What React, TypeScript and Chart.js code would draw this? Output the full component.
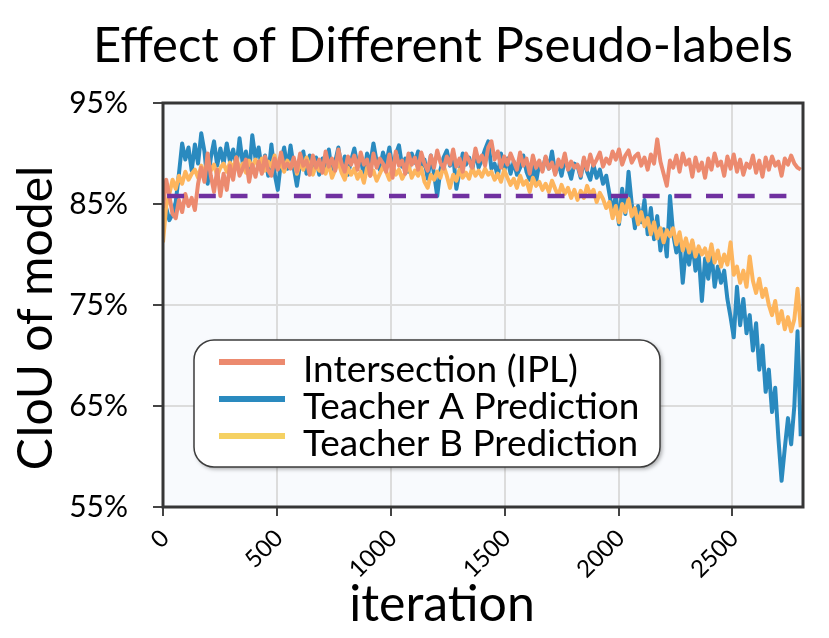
import React, { useEffect, useRef } from 'react';
import { Chart, registerables } from 'chart.js';

Chart.register(...registerables);

// sampled every 14 iterations, 0 .. 2800
const STEP = 14;
const iterations = Array.from({ length: 201 }, (_, i) => i * STEP);

const intersection = [
  84.6, 87.4, 85.8, 84.0, 83.6, 85.4, 84.2, 86.0, 84.8, 85.6,
  84.4, 87.0, 88.6, 87.2, 90.0, 87.8, 86.2, 88.4, 85.8, 88.0,
  86.4, 88.8, 87.4, 89.6, 87.8, 88.5, 89.4, 87.2, 88.9, 87.7,
  89.2, 88.0, 89.7, 88.3, 87.8, 89.5, 88.4, 90.1, 88.6, 89.0,
  88.5, 89.6, 88.2, 90.0, 88.8, 89.3, 87.9, 89.8, 88.6, 89.4,
  88.1, 90.2, 88.7, 89.5, 88.3, 90.4, 89.0, 88.2, 89.7, 88.9,
  89.8, 88.4, 90.1, 88.9, 89.4, 87.8, 90.0, 88.6, 89.5, 89.0,
  88.2, 89.9, 87.6, 90.2, 88.8, 89.3, 88.0, 90.0, 88.9, 89.6,
  88.4, 90.1, 89.0, 88.3, 89.8, 88.6, 90.3, 89.1, 88.5, 89.7,
  88.9, 90.4, 88.7, 89.5, 88.2, 90.0, 89.3, 88.6, 90.5, 89.2,
  89.8, 88.8, 90.6, 91.2, 89.4, 90.2, 88.6, 89.7, 88.9, 90.0,
  89.2, 88.4, 90.1, 88.8, 89.5, 88.0, 89.8, 88.6, 89.3, 88.2,
  89.7, 88.5, 89.1, 87.9, 89.4, 88.7, 90.0, 88.4, 89.2, 88.6,
  88.9, 87.8, 89.6, 88.4, 89.9, 88.8, 89.4, 90.1, 88.7, 89.5,
  89.0, 90.2, 89.4, 90.4, 88.9, 89.8, 90.3, 89.1, 89.7, 90.0,
  88.8, 89.6, 88.4, 89.9, 89.0, 91.4, 89.2, 88.0, 86.8, 89.3,
  88.6, 89.8, 88.2, 90.0, 88.9, 89.4, 87.7, 89.6, 88.3, 89.1,
  87.6, 89.5, 88.4, 90.0, 88.8, 89.2, 87.8, 89.7, 88.5, 89.9,
  88.2, 89.4, 87.9, 89.0, 88.6, 89.8, 88.1, 89.3, 87.7, 89.6,
  88.4, 89.7, 88.8, 89.2, 87.8, 89.5, 88.9, 89.8, 89.0, 88.6,
  88.4,
];

const teacherA = [
  83.5, 84.6, 83.4, 84.0, 85.2, 88.0, 91.0, 89.4, 90.6, 88.3,
  90.9, 89.0, 92.0, 90.2, 87.0, 89.6, 91.2, 88.8, 90.5, 89.0,
  91.0, 89.2, 90.4, 88.6, 91.5, 89.0, 90.2, 88.0, 91.8, 89.5,
  90.6, 88.4, 89.8, 87.8, 90.9, 88.0, 86.4, 89.2, 90.6, 88.5,
  90.8, 88.6, 86.8, 89.0, 90.2, 88.0, 89.8, 88.4, 89.6, 87.9,
  89.5, 88.3, 90.4, 88.0, 89.2, 90.6, 88.5, 89.7, 87.9, 89.3,
  90.5, 88.8, 89.6, 87.7, 90.0, 88.9, 91.0, 89.2, 88.4, 90.1,
  89.0, 90.6, 88.5, 89.9, 90.8, 88.7, 89.5, 88.2, 90.0, 89.1,
  90.2, 88.6, 89.4, 87.5, 89.8, 88.0, 85.8, 88.4, 89.6, 90.3,
  88.8, 89.9, 86.5, 88.2, 90.0, 88.9, 89.6, 88.4, 90.2, 88.6,
  89.4, 90.4, 91.2, 88.5, 89.0, 87.7, 90.0, 88.3, 89.5, 88.0,
  89.2, 87.9, 88.6, 89.8, 88.2, 87.4, 88.8, 87.2, 89.0, 88.4,
  89.6, 88.5, 90.2, 88.0, 89.1, 87.8, 89.4, 88.6, 87.5, 89.0,
  88.8, 87.6, 89.4, 88.2, 87.4, 88.9, 87.6, 88.4, 87.0, 87.8,
  86.0, 84.2, 85.8, 83.0, 86.5, 84.0, 88.2, 85.0, 82.6, 84.8,
  83.2, 85.4, 82.0, 84.6, 81.5, 83.8, 80.4, 82.5, 79.8, 85.8,
  82.0, 80.2, 81.4, 77.2, 80.6, 79.0, 81.2, 78.4, 80.0, 75.4,
  79.6, 77.6, 80.2, 76.8, 78.8, 77.2, 78.4, 75.6, 73.8, 71.8,
  76.8, 73.0, 75.6, 72.2, 74.0, 70.5, 73.2, 68.6, 71.0, 66.4,
  68.6, 64.4, 66.8, 61.8, 57.6, 60.8, 63.8, 61.2, 65.0, 72.4,
  62.0,
];

const teacherB = [
  81.2, 84.8, 86.0, 87.4, 86.5, 87.8, 87.0, 88.2, 87.4, 88.0,
  88.4, 87.6, 88.8, 88.0, 89.2, 88.3, 88.9, 87.8, 88.6, 89.0,
  88.2, 89.1, 88.5, 89.6, 88.4, 89.0, 88.1, 89.3, 88.6, 89.4,
  88.8, 89.5, 88.3, 89.2, 88.7, 89.8, 88.5, 89.0, 88.2, 89.3,
  88.6, 89.4, 88.0, 89.1, 88.4, 89.6, 88.8, 87.9, 88.9, 88.3,
  88.8, 88.0, 89.0, 87.6, 88.4, 89.2, 88.1, 87.4, 88.6, 87.9,
  88.5, 87.5, 88.2, 87.1, 88.6, 87.8, 88.3, 87.3, 88.0, 88.7,
  88.2, 87.4, 88.8, 87.9, 88.4, 87.5, 88.1, 88.9, 87.6, 88.3,
  87.8, 88.6, 87.2, 86.6, 87.9, 87.4, 88.2, 87.6, 88.8, 87.8,
  86.6, 87.9, 87.3, 88.4, 87.6, 88.1, 87.5, 88.6, 87.8, 88.3,
  87.7, 88.5, 87.9, 88.2, 87.4, 88.0, 87.2, 88.4, 87.6, 86.9,
  87.5, 86.6, 87.8, 86.9, 87.3, 86.2, 87.6, 86.8, 87.2, 86.4,
  87.0, 86.2, 87.3, 86.5, 85.8, 86.9, 86.0, 86.6, 85.6, 86.4,
  85.4, 86.3, 85.6, 86.8, 85.9, 86.4, 85.2, 86.1, 85.5, 84.6,
  85.2, 83.6, 84.8, 83.2, 85.0, 84.2, 85.5, 83.8, 84.6, 83.0,
  84.2, 82.8, 83.6, 82.0, 83.2, 81.6, 82.6, 81.2, 82.4, 81.8,
  82.6, 81.0, 82.2, 80.4, 81.6, 80.2, 81.4, 79.8, 80.8, 80.0,
  80.6, 79.4, 81.0, 79.2, 80.4, 78.8, 80.0, 79.0, 81.2, 78.0,
  78.8, 77.2, 78.4, 76.8, 79.8, 77.4, 76.2, 77.6, 75.8, 76.6,
  75.0, 74.0, 75.4, 73.2, 74.4, 72.6, 73.8, 72.4, 73.6, 76.6,
  72.8,
];

// horizontal dashed reference
const baselineLevel = 85.8;
const baselineSpan = [18, 2782];

const xTicks = [0, 500, 1000, 1500, 2000, 2500];
const yTicks = [55, 65, 75, 85, 95];

const seriesLabels = ['Intersection (IPL)', 'Teacher A Prediction', 'Teacher B Prediction'];
const lineColors = ['#ec8a6f', '#2a8abf', '#fdb55d'];
const legendColors = ['#ec8a6f', '#2a8abf', '#f5d163'];

const FONT = 'Lato, "Open Sans", sans-serif';

const decorPlugin = {
  id: 'decor',
  beforeDraw(chart: any) {
    const { ctx, chartArea: a } = chart;
    ctx.save();
    ctx.fillStyle = '#f8fafd';
    ctx.fillRect(a.left, a.top, a.right - a.left, a.bottom - a.top);
    ctx.restore();
  },
  afterDatasetsDraw(chart: any) {
    const { ctx, chartArea: a } = chart;
    ctx.save();
    // frame
    ctx.strokeStyle = '#363636';
    ctx.lineWidth = 3;
    ctx.strokeRect(a.left, a.top, a.right - a.left, a.bottom - a.top);

    // legend box
    const bx = 186, by = 332, bw = 466, bh = 127;
    ctx.save();
    ctx.shadowColor = 'rgba(0,0,0,0.35)';
    ctx.shadowBlur = 4;
    ctx.shadowOffsetX = 2;
    ctx.shadowOffsetY = 2;
    ctx.fillStyle = '#ffffff';
    ctx.beginPath();
    ctx.roundRect(bx, by, bw, bh, 20);
    ctx.fill();
    ctx.restore();
    ctx.strokeStyle = '#3c3c3c';
    ctx.lineWidth = 1.5;
    ctx.beginPath();
    ctx.roundRect(bx, by, bw, bh, 20);
    ctx.stroke();

    ctx.font = `37px ${FONT}`;
    ctx.textAlign = 'left';
    ctx.textBaseline = 'alphabetic';
    seriesLabels.forEach((label, i) => {
      const y = by + 22 + i * 37;
      ctx.strokeStyle = legendColors[i];
      ctx.lineWidth = 6;
      ctx.beginPath();
      ctx.moveTo(bx + 25, y);
      ctx.lineTo(bx + 91, y);
      ctx.stroke();
      ctx.fillStyle = '#000';
      ctx.fillText(label, bx + 109, y + 20);
    });
    ctx.restore();
  },
  afterDraw(chart: any) {
    const { ctx } = chart;
    ctx.save();
    ctx.fillStyle = '#000';
    ctx.textAlign = 'center';
    ctx.textBaseline = 'alphabetic';
    ctx.font = `49px ${FONT}`;
    ctx.fillText('Effect of Different Pseudo-labels', 435, 54);
    ctx.font = `50px ${FONT}`;
    ctx.fillText('iteration', 434, 613);
    ctx.translate(44, 310);
    ctx.rotate(-Math.PI / 2);
    ctx.font = `48px ${FONT}`;
    ctx.fillText('CIoU of model', 0, 0);
    ctx.restore();
  },
};

const toPoints = (values: number[]) => iterations.map((x, i) => ({ x, y: values[i] }));

const App: React.FC = () => {
  const chartRef = useRef<HTMLCanvasElement>(null);
  const chartInstance = useRef<Chart | null>(null);

  useEffect(() => {
    if (!chartRef.current) return;
    if (chartInstance.current) chartInstance.current.destroy();
    const ctx = chartRef.current.getContext('2d');
    if (!ctx) return;

    const lineStyle = {
      borderWidth: 4,
      pointRadius: 0,
      tension: 0,
      borderJoinStyle: 'round' as const,
    };

    chartInstance.current = new Chart(ctx, {
      type: 'line',
      data: {
        datasets: [
          {
            label: 'baseline',
            data: baselineSpan.map((x) => ({ x, y: baselineLevel })),
            borderColor: '#7030a0',
            borderWidth: 4.5,
            borderDash: [17, 14.7],
            pointRadius: 0,
            order: 0,
          },
          { label: seriesLabels[0], data: toPoints(intersection), borderColor: lineColors[0], ...lineStyle, order: 1 },
          { label: seriesLabels[2], data: toPoints(teacherB), borderColor: lineColors[2], ...lineStyle, order: 2 },
          { label: seriesLabels[1], data: toPoints(teacherA), borderColor: lineColors[1], ...lineStyle, order: 3 },
        ],
      },
      options: {
        responsive: true,
        maintainAspectRatio: false,
        animation: false,
        layout: { padding: { top: 95, right: 18, left: 0, bottom: 0 } },
        plugins: {
          legend: { display: false },
          title: { display: false },
          tooltip: { enabled: false },
        },
        scales: {
          x: {
            type: 'linear',
            min: 0,
            max: 2810,
            afterFit: (s: any) => { s.height = 123; },
            afterBuildTicks: (s: any) => { s.ticks = xTicks.map((value) => ({ value })); },
            grid: { color: '#dcdcdc', lineWidth: 2, tickColor: '#444', tickWidth: 2, tickLength: 9 },
            border: { display: false },
            ticks: {
              autoSkip: false,
              minRotation: 45,
              maxRotation: 45,
              padding: 8,
              labelOffset: 2,
              color: '#000',
              font: { family: FONT, size: 24 },
              callback: (v: any) => String(v),
            },
          },
          y: {
            min: 55,
            max: 95,
            afterFit: (s: any) => { s.width = 155; },
            afterBuildTicks: (s: any) => { s.ticks = yTicks.map((value) => ({ value })); },
            grid: { color: '#dcdcdc', lineWidth: 2, tickColor: '#444', tickWidth: 2, tickLength: 10 },
            border: { display: false },
            ticks: {
              padding: 25,
              color: '#000',
              font: { family: FONT, size: 30 },
              callback: (v: any) => `${v}%`,
            },
          },
        },
      },
      plugins: [decorPlugin],
    });

    return () => {
      if (chartInstance.current) {
        chartInstance.current.destroy();
        chartInstance.current = null;
      }
    };
  }, []);

  return (
    <div style={{ position: 'relative', width: 813, height: 622 }}>
      <canvas ref={chartRef} />
    </div>
  );
};

export default App;
